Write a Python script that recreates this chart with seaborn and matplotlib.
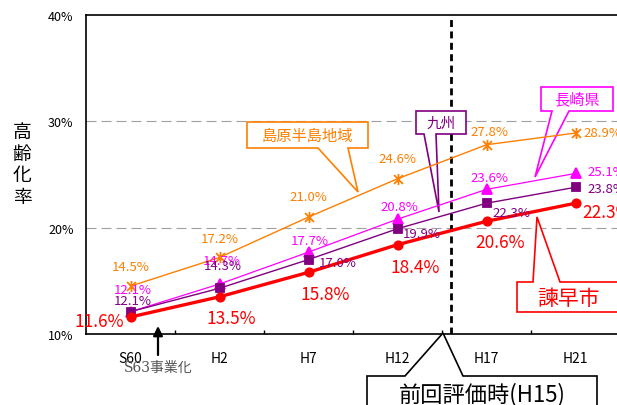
import matplotlib
matplotlib.use("Agg")
import matplotlib.pyplot as plt
from matplotlib.patches import Polygon
from matplotlib.path import Path
import seaborn as sns
import numpy as np

# 高齢化率の推移（%）
periods = ["S60", "H2", "H7", "H12", "H17", "H21"]
isahaya = [11.6, 13.5, 15.8, 18.4, 20.6, 22.3]
kyushu = [12.1, 14.3, 17.0, 19.9, 22.3, 23.8]
nagasaki = [12.1, 14.7, 17.7, 20.8, 23.6, 25.1]
shimabara = [14.5, 17.2, 21.0, 24.6, 27.8, 28.9]
y_ticks = [10, 20, 30, 40]
h15_pos = 3.6  # H15 lies 3/5 of the way from H12 to H17

W, H = 617, 406
sns.set_theme(style="white")
plt.rcParams["font.family"] = ["Noto Sans CJK JP", "DejaVu Sans"]

fig = plt.figure(figsize=(W / 100, H / 100), dpi=100)
fig.patch.set_facecolor("white")
ax = fig.add_axes([86 / W, 1 - 335 / H, 534 / W, 319 / H])
ax.set_facecolor("white")


def fp(x, y):
    """pixel position measured from the top-left -> figure fraction"""
    return (x / W, 1 - y / H)


PX = 0.72  # pixels -> points

# asterisk marker: an X crossed by a vertical stroke
star = Path([(-1, -1), (1, 1), (-1, 1), (1, -1), (0, -1.25), (0, 1.25)],
            [Path.MOVETO, Path.LINETO, Path.MOVETO, Path.LINETO,
             Path.MOVETO, Path.LINETO])

series = [
    # values, color, marker, size, line width, label size, zorder, label offsets (dx, dy, ha)
    (shimabara, "#FF7F00", star, 8, 1.0, 9.5, 5,
     [(0, 20, "center"), (0, 19, "center"), (0, 21, "center"), (0, 20, "center"),
      (3, 13, "center"), (8, 1, "left")]),
    (nagasaki, "#FF00FF", "^", 6.5, 0.9, 9.5, 6,
     [(2, 22, "center"), (2, 24, "center"), (1, 12, "center"), (2, 13, "center"),
      (3, 12, "center"), (12, 2, "left")]),
    (kyushu, "#800080", "s", 5.5, 1.0, 9.5, 7,
     [(2, 11, "center"), (3, 23, "center"), (10, -3, "left"), (5, -5, "left"),
      (6, -9, "left"), (12, -1, "left")]),
    (isahaya, "#FF0000", "o", 6, 2.4, 12.5, 8,
     [(-7, -4, "right"), (12, -21, "center"), (17, -22, "center"), (18, -22, "center"),
      (14, -21, "center"), (7, -9, "left")]),
]

x = np.arange(len(periods))
for vals, color, marker, ms, lw, fs, z, offs in series:
    sns.lineplot(x=x, y=vals, ax=ax, color=color, marker=marker, markersize=ms,
                 linewidth=lw, markeredgecolor=color, markerfacecolor=color,
                 markeredgewidth=1.3, zorder=z)
    for i, v in enumerate(vals):
        dx, dy, ha = offs[i]
        ax.annotate(f"{v:.1f}%", xy=(i, v), xytext=(dx * PX, dy * PX),
                    textcoords="offset points", ha=ha, va="center",
                    color=color, fontsize=fs, zorder=9, annotation_clip=False)

# axes, ticks and grid
ax.set_xlim(-0.5, len(periods) - 0.5)
ax.set_ylim(y_ticks[0], y_ticks[-1])
ax.set_xticks(x)
ax.set_xticklabels(periods)
ax.set_xticks(np.arange(0.5, len(periods) - 1, 1), minor=True)
ax.tick_params(axis="x", which="major", length=0, pad=12, labelsize=10, colors="black")
ax.tick_params(axis="x", which="minor", bottom=True, direction="in", length=3,
               width=1, color="black")
ax.set_yticks(y_ticks)
ax.set_yticklabels([f"{v}%" for v in y_ticks])
ax.tick_params(axis="y", length=0, pad=9, labelsize=9, colors="black")
ax.set_xlabel("")
ax.set_ylabel("")
for v in y_ticks[1:-1]:
    ax.axhline(v, color="#A0A0A0", lw=0.8, ls=(0, (9, 4.5)), zorder=1)
for side in ["left", "top", "bottom"]:
    ax.spines[side].set_color("black")
    ax.spines[side].set_linewidth(1.2)
    ax.spines[side].set_visible(True)
ax.spines["right"].set_visible(False)

# H15 marker line
ax.axvline(h15_pos, color="black", lw=2, ls=(0, (2.5, 1.6)), zorder=2)

# vertical axis title
fig.text(*fp(22, 165), "\n".join("高齢化率"), ha="center", va="center",
         fontsize=13.5, linespacing=1.05, color="black")


def callout(pts, text, tpos, color, fs):
    poly = Polygon([fp(*p) for p in pts], closed=True, transform=fig.transFigure,
                   facecolor="white", edgecolor=color, lw=1.2, zorder=3,
                   clip_on=False)
    ax.add_patch(poly)
    ax.text(*fp(*tpos), text, transform=fig.transFigure, ha="center",
            va="center", color=color, fontsize=fs, zorder=10, clip_on=False)


callout([(247, 123), (368, 123), (368, 149), (348, 149), (358, 193),
         (318, 149), (247, 149)], "島原半島地域", (307.5, 136), "#FF7F00", 11)
callout([(416, 112), (466, 112), (466, 135), (436, 135), (439, 213),
         (424, 135), (416, 135)], "九州", (441, 123.5), "#800080", 10.5)
callout([(541, 88), (613, 88), (613, 112), (569, 112), (535, 178),
         (552, 112), (541, 112)], "長崎県", (577, 100), "#FF00FF", 11)
callout([(517, 283), (533, 283), (537, 218), (560, 283), (640, 283),
         (640, 313), (517, 313)], "諫早市", (569, 299), "#FF0000", 15)
callout([(367, 377), (405, 377), (443, 334), (463, 377), (597, 377),
         (597, 430), (367, 430)], "前回評価時(H15)", (482, 395), "black", 16)

# project start arrow
ax.annotate("", xy=fp(158, 327), xytext=fp(158, 356), xycoords="figure fraction",
            textcoords="figure fraction",
            arrowprops=dict(arrowstyle="-|>", color="black", lw=1.6,
                            mutation_scale=14, shrinkA=0, shrinkB=0),
            annotation_clip=False)
fig.text(*fp(158, 367.5), "S63事業化", ha="center", va="center", fontsize=10,
         color="#555555", family=["DejaVu Serif", "Noto Sans CJK JP"])

fig.savefig("out.png", dpi=100)
